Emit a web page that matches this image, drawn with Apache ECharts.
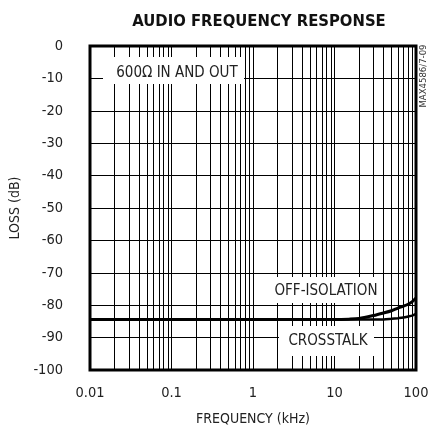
<!DOCTYPE html>
<html>
<head>
<meta charset="utf-8">
<script src="https://cdn.jsdelivr.net/npm/echarts@6/dist/echarts.min.js"></script>
<style>
html,body{margin:0;padding:0;background:#fff;}
#chart{width:430px;height:431px;}
</style>
</head>
<body>
<div id="chart"></div>
<script>
// ---- data ----
var freqKHz = [0.01, 0.1, 1, 10, 15, 20, 30, 40, 50, 60, 70, 80, 90, 100];
var offIsolation = [-84.4, -84.4, -84.4, -84.4, -84.3, -84.1, -83.2, -82.4, -81.7, -80.9, -80.3, -79.7, -78.9, -77.8];
var crosstalk = [-84.4, -84.4, -84.4, -84.4, -84.4, -84.4, -84.4, -84.4, -84.2, -84.0, -83.8, -83.5, -83.2, -82.7];
var xTicks = [0.01, 0.1, 1, 10, 100];
var xTickLabels = ['0.01', '0.1', '1', '10', '100'];
var minorFreqs = [0.02,0.03,0.04,0.05,0.06,0.07,0.08,0.09,
                  0.2,0.3,0.4,0.5,0.6,0.7,0.8,0.9,
                  2,3,4,5,6,7,8,9,
                  20,30,40,50,60,70,80,90];
var yMin = -100, yMax = 0, yStep = 10;

var FONT = "'Liberation Sans Narrow','DejaVu Sans Condensed','Liberation Sans',sans-serif";

function pairs(xs, ys){ return xs.map(function(x,i){ return [x, ys[i]]; }); }

var chart = echarts.init(document.getElementById('chart'), null, {renderer:'canvas'});
var option = {
  animation: false,
  backgroundColor: '#fff',
  title: {
    text: 'AUDIO FREQUENCY RESPONSE',
    left: 254, top: 8, textAlign: 'center',
    textStyle: {fontFamily: FONT, fontWeight: 'bold', fontSize: 16.5, color: '#111'}
  },
  grid: {left: 90, right: 14, top: 46, bottom: 61, show: true, borderColor: '#000', borderWidth: 3,
         backgroundColor: 'transparent', containLabel: false, outerBoundsMode: 'none'},
  xAxis: {
    type: 'log', logBase: 10, min: 0.01, max: 100,
    name: 'FREQUENCY (kHz)', nameLocation: 'middle', nameGap: 42,
    nameTextStyle: {fontFamily: FONT, fontSize: 14, color: '#222'},
    axisLine: {show: false}, axisTick: {show: false},
    axisLabel: {fontFamily: FONT, fontSize: 14.5, color: '#222', margin: 16,
      formatter: function(v){
        for (var i=0;i<xTicks.length;i++){ if (Math.abs(Math.log10(v)-Math.log10(xTicks[i]))<1e-6) return xTickLabels[i]; }
        return '';
      }},
    splitLine: {show: true, lineStyle: {color: '#000', width: 1}}
  },
  yAxis: {
    type: 'value', min: yMin, max: yMax, interval: yStep,
    name: 'LOSS (dB)', nameLocation: 'middle', nameGap: 66,
    nameTextStyle: {fontFamily: FONT, fontSize: 14, color: '#222'},
    axisLine: {show: false}, axisTick: {show: false},
    axisLabel: {fontFamily: FONT, fontSize: 14.5, color: '#222', margin: 27},
    splitLine: {show: true, lineStyle: {color: '#000', width: 1}}
  },
  series: [
    {
      name: 'CROSSTALK', type: 'line', data: pairs(freqKHz, crosstalk),
      showSymbol: false, smooth: 0.3, z: 5,
      lineStyle: {color: '#000', width: 2.5},
      markLine: {
        silent: true, symbol: 'none', animation: false,
        label: {show: false},
        lineStyle: {color: '#000', width: 1, type: 'solid'},
        data: minorFreqs.map(function(f){ return {xAxis: f}; })
      }
    },
    {
      name: 'OFF-ISOLATION', type: 'line', data: pairs(freqKHz, offIsolation),
      showSymbol: false, smooth: 0.3, z: 6,
      lineStyle: {color: '#000', width: 3}
    }
  ],
  graphic: [
    {type:'rect', z:100, shape:{x:103, y:57, width:141, height:27}, style:{fill:'#fff'}},
    {type:'text', z:101, x:177, y:73, style:{text:'600\u03A9 IN AND OUT', fill:'#222', font:'15px '+FONT, align:'center', verticalAlign:'middle'}},
    {type:'rect', z:100, shape:{x:265, y:277, width:115, height:26}, style:{fill:'#fff'}},
    {type:'text', z:101, x:326, y:291.5, style:{text:'OFF-ISOLATION', fill:'#222', font:'15px '+FONT, align:'center', verticalAlign:'middle'}},
    {type:'rect', z:100, shape:{x:279, y:326, width:95, height:30}, style:{fill:'#fff'}},
    {type:'text', z:101, x:328, y:341.5, style:{text:'CROSSTALK', fill:'#222', font:'15px '+FONT, align:'center', verticalAlign:'middle'}},
    {type:'text', z:101, x:424, y:76, rotation: Math.PI/2, style:{text:'MAX4586/7-09', fill:'#333', font:'9.5px '+FONT, align:'center', verticalAlign:'middle'}}
  ]
};
chart.setOption(option);
</script>
</body>
</html>
